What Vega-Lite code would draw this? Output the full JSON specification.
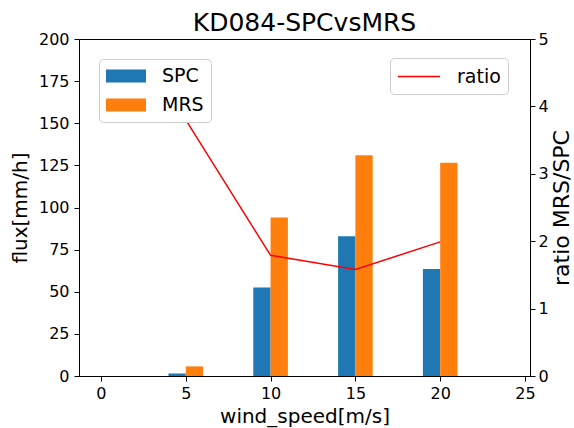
{
  "$schema": "https://vega.github.io/schema/vega-lite/v6.json",
  "width": 451,
  "height": 337,
  "autosize": {"type": "none"},
  "padding": {"left": 79, "top": 39, "right": 44, "bottom": 52},
  "background": "white",
  "title": {
    "text": "KD084-SPCvsMRS",
    "font": "DejaVu Sans",
    "fontSize": 25,
    "fontWeight": "normal",
    "color": "black",
    "anchor": "middle",
    "offset": -5
  },
  "config": {
    "font": "DejaVu Sans",
    "view": {"stroke": "black", "strokeWidth": 1},
    "axis": {
      "grid": false,
      "domainColor": "black",
      "tickColor": "black",
      "tickSize": 5,
      "labelColor": "black",
      "labelFont": "DejaVu Sans",
      "labelFontSize": 16,
      "titleFont": "DejaVu Sans",
      "titleFontSize": 20,
      "titleFontWeight": "normal",
      "titleColor": "black"
    },
    "legend": {
      "orient": "none",
      "title": null,
      "fillColor": "white",
      "strokeColor": "#cccccc",
      "cornerRadius": 4,
      "padding": 7,
      "labelFont": "DejaVu Sans",
      "labelFontSize": 19,
      "labelColor": "black"
    }
  },
  "datasets": {
    "flux": [
      {"wind_speed": 5, "series": "SPC", "flux": 1.5},
      {"wind_speed": 10, "series": "SPC", "flux": 52.5},
      {"wind_speed": 15, "series": "SPC", "flux": 83},
      {"wind_speed": 20, "series": "SPC", "flux": 63.5},
      {"wind_speed": 5, "series": "MRS", "flux": 5.7},
      {"wind_speed": 10, "series": "MRS", "flux": 94},
      {"wind_speed": 15, "series": "MRS", "flux": 131},
      {"wind_speed": 20, "series": "MRS", "flux": 126.5}
    ],
    "ratio": [
      {"wind_speed": 5, "ratio": 3.8},
      {"wind_speed": 10, "ratio": 1.79},
      {"wind_speed": 15, "ratio": 1.58},
      {"wind_speed": 20, "ratio": 1.99}
    ]
  },
  "layer": [
    {
      "data": {"name": "flux"},
      "encoding": {
        "x": {
          "field": "wind_speed",
          "type": "quantitative",
          "scale": {"domain": [-1, 25], "nice": false, "zero": false},
          "axis": {
            "values": [0, 5, 10, 15, 20, 25],
            "title": "wind_speed[m/s]",
            "labelPadding": 4,
            "titlePadding": 5,
            "labelFlush": false
          }
        },
        "y": {
          "field": "flux",
          "type": "quantitative",
          "scale": {"domain": [0, 200], "nice": false},
          "axis": {
            "values": [0, 25, 50, 75, 100, 125, 150, 175, 200],
            "title": "flux[mm/h]",
            "labelPadding": 5,
            "titlePadding": 8,
            "labelFlush": false
          }
        },
        "color": {
          "field": "series",
          "type": "nominal",
          "scale": {"domain": ["SPC", "MRS"], "range": ["#1f77b4", "#ff7f0e"]},
          "legend": {
            "legendX": 20,
            "legendY": 20,
            "symbolType": "M-1,-0.65H3V0.65H-1Z",
            "symbolSize": 400,
            "symbolStrokeWidth": 0,
            "symbolOpacity": 1,
            "labelOffset": 36,
            "rowPadding": 9
          }
        }
      },
      "layer": [
        {
          "transform": [{"filter": "datum.series === 'SPC'"}],
          "mark": {"type": "bar", "width": 17.3, "xOffset": -8.65, "opacity": 1}
        },
        {
          "transform": [{"filter": "datum.series === 'MRS'"}],
          "mark": {"type": "bar", "width": 17.3, "xOffset": 8.65, "opacity": 1}
        }
      ]
    },
    {
      "data": {"name": "ratio"},
      "mark": {"type": "line", "strokeWidth": 1.5},
      "encoding": {
        "x": {"field": "wind_speed", "type": "quantitative"},
        "y": {
          "field": "ratio",
          "type": "quantitative",
          "scale": {"domain": [0, 5], "nice": false},
          "axis": {
            "orient": "right",
            "values": [0, 1, 2, 3, 4, 5],
            "title": "ratio MRS/SPC",
            "titleFontSize": 22,
            "titleAngle": 270,
            "titleBaseline": "alphabetic",
            "titleAlign": "center",
            "titleX": 38,
            "titleY": 168.5,
            "labelPadding": 3,
            "labelFlush": false
          }
        },
        "stroke": {
          "datum": "ratio",
          "scale": {"domain": ["ratio"], "range": ["#ff0000"]},
          "legend": {
            "legendX": 311,
            "legendY": 19,
            "symbolType": "M-1,0H3",
            "symbolSize": 441,
            "symbolStrokeWidth": 1.5,
            "symbolFillColor": "transparent",
            "labelOffset": 37
          }
        }
      }
    }
  ],
  "resolve": {"scale": {"y": "independent"}}
}
